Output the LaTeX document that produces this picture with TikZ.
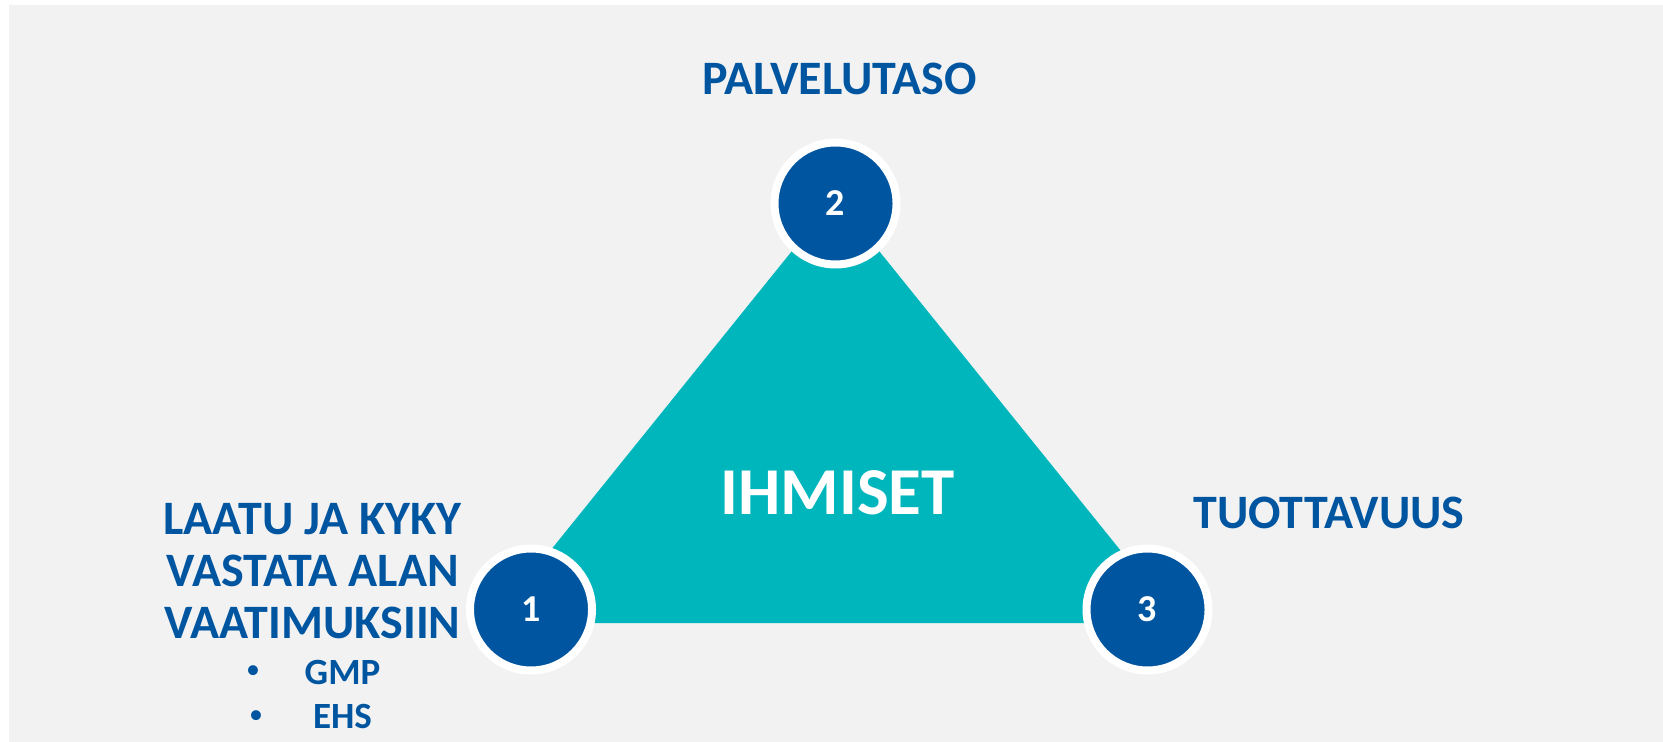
\documentclass[tikz,border=0pt]{standalone}
\usepackage{fontspec}
\setmainfont{Carlito}
\usepackage{tikz}
\usepackage{xcolor}
\definecolor{tummasini}{HTML}{0055A0}
\definecolor{turkoosi}{HTML}{00B6BD}
\definecolor{tausta}{HTML}{F2F2F2}

\begin{document}
\begin{tikzpicture}[x=0.5pt, y=-0.5pt, main/.style = {draw=white, line width=4pt, circle, fill=tummasini, minimum size=61pt, inner sep=0pt, text=white, font=\bfseries\fontsize{19}{19}\selectfont}, heading/.style = {text=tummasini, anchor=base, inner sep=0pt, font=\bfseries\fontsize{24}{24}\selectfont}, item/.style = {heading, font=\bfseries\fontsize{18.5}{18.5}\selectfont}]
\useasboundingbox (0,0) rectangle (1663,742);
\fill[tausta] (9,5) rectangle (1663,742);
\fill[turkoosi] (492,623) -- (835.5,197) -- (1179,623) -- cycle;
\node[main] (1) at (531,609.5) {1};
\node[main] (2) at (835.5,203.5) {2};
\node[main] (3) at (1147.5,609.5) {3};
\node[heading] (palvelu) at (839.5,95) {PALVELUTASO};
\node[heading] (tuotto) at (1329,528) {TUOTTAVUUS};
\node[heading, text=white, font=\bfseries\fontsize{33.5}{33.5}\selectfont] (ihmiset) at (837.5,514) {IHMISET};
\node[heading] (laatu) at (312.5,534) {LAATU JA KYKY};
\node[heading] (vastata) at (312.5,586) {VASTATA ALAN};
\node[heading] (vaatimus) at (312.5,638) {VAATIMUKSIIN};
\node[item] (gmp) at (342.5,684) {GMP};
\node[item] (ehs) at (342.5,728) {EHS};
\node[item, font=\fontsize{14}{14}\selectfont] (b1) at (253,678) {\textbullet};
\node[item, font=\fontsize{14}{14}\selectfont] (b2) at (256,723) {\textbullet};
\end{tikzpicture}
\end{document}
